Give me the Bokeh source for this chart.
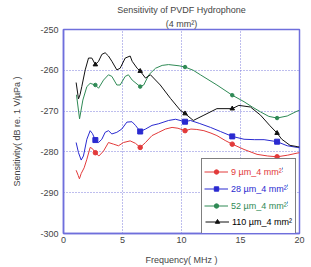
import numpy as np
from bokeh.plotting import figure
from bokeh.models import Legend, LegendItem, Title, PrintfTickFormatter, FixedTicker
from bokeh.embed import file_html
from bokeh.resources import INLINE

# ---- data ----
red_x = [1.07, 1.25, 1.35, 1.5, 1.75, 1.98, 2.26, 2.45, 2.7, 3.0, 3.39, 3.81, 4.24, 4.66, 5.08, 5.65,
         6.1, 6.5, 6.95, 7.5, 8.07, 8.64, 9.2, 9.7, 10.3, 10.8, 11.3, 11.9, 12.5, 13.0, 13.7, 14.3,
         15.3, 16.4, 17.3, 18.1, 19.0, 19.8, 20.0]
red_y = [-284.5, -285.8, -286.6, -285.3, -283.9, -281.8, -278.9, -279.2, -280.2, -281.0, -279.8, -277.7,
         -278.1, -278.5, -277.7, -277.3, -277.9, -278.9, -277.7, -276.0, -275.2, -274.4, -274.0, -274.2,
         -274.8, -274.4, -274.5, -274.8, -275.4, -276.0, -277.2, -278.1, -279.4, -280.6, -281.0, -281.2,
         -280.8, -280.3, -280.2]

blue_x = [1.07, 1.27, 1.5, 1.69, 1.98, 2.26, 2.45, 2.7, 2.97, 3.25, 3.53, 3.81, 4.1, 4.52, 4.94, 5.37,
          5.8, 6.1, 6.5, 6.95, 7.5, 8.07, 8.9, 9.5, 10.3, 10.76, 11.5, 12.46, 13.3, 14.3, 15.3, 16.2,
          17.0, 18.1, 18.96, 19.8, 20.0]
blue_y = [-277.7, -280.2, -282.0, -281.0, -276.9, -274.8, -275.5, -277.1, -277.7, -276.9, -275.2, -274.8,
          -275.6, -275.2, -274.4, -272.7, -272.6, -273.5, -275.0, -274.4, -273.5, -273.1, -272.3, -272.0,
          -272.6, -272.3, -273.0, -274.0, -275.0, -276.2, -276.9, -277.0, -277.0, -277.5, -278.5, -278.9,
          -279.0]

green_x = [1.1, 1.36, 1.64, 1.98, 2.26, 2.7, 2.97, 3.39, 3.81, 4.1, 4.52, 4.8, 5.23, 5.5, 5.82, 6.5,
           6.8, 7.23, 7.8, 8.36, 8.9, 9.8, 10.3, 11.0, 11.6, 13.0, 14.3, 15.3, 16.0, 16.7, 17.4, 18.1,
           18.96, 19.8, 20.0]
green_y = [-266.0, -271.9, -267.3, -264.0, -263.2, -263.6, -264.4, -262.4, -261.1, -261.5, -263.6, -263.6,
           -261.5, -261.1, -262.4, -264.0, -263.6, -261.1, -259.5, -258.8, -258.6, -258.9, -259.2, -260.0,
           -261.1, -263.6, -266.1, -267.7, -269.0, -270.2, -271.3, -271.7, -271.2, -270.0, -269.8]

black_x = [1.07, 1.27, 1.4, 1.55, 1.84, 2.12, 2.4, 2.7, 2.97, 3.25, 3.53, 3.81, 4.1, 4.52, 4.8, 5.23,
           5.65, 5.82, 6.24, 6.5, 6.95, 7.37, 8.2, 9.07, 9.9, 10.3, 11.0, 11.9, 13.0, 14.3, 14.86, 15.85,
           16.7, 17.5, 18.1, 18.5, 19.2, 19.8, 20.0]
black_y = [-263.0, -267.0, -266.0, -264.0, -259.9, -257.0, -257.0, -258.6, -257.8, -256.1, -255.7, -256.5,
           -257.8, -259.9, -259.5, -257.0, -256.5, -257.8, -259.5, -260.2, -261.9, -261.1, -263.6, -266.9,
           -269.8, -270.6, -272.3, -271.0, -269.4, -269.4, -268.6, -269.0, -271.0, -273.6, -275.4, -276.9,
           -278.4, -278.7, -278.8]

marker_freqs = [2.7, 6.5, 10.3, 14.3, 18.1]

labels = ["9 \u00b5m_4 mm\u00b2", "28 \u00b5m_4 mm\u00b2", "52 \u00b5m_4 mm\u00b2", "110 \u00b5m_4 mm\u00b2"]
x_ticks = [0, 5, 10, 15, 20]
y_ticks = [-300, -290, -280, -270, -260, -250]

FONT = "Liberation Sans"
TXT = "#444444"
AXC = "#6f6fdc"

p = figure(width=311, height=267, x_range=(0, 20), y_range=(-300, -250),
           output_backend="svg", toolbar_location=None, title=None,
           min_border_left=63, min_border_right=12, min_border_top=0, min_border_bottom=34)

p.add_layout(Title(text="(4 mm\u00b2)", align="center", text_font=FONT, text_font_size="9px",
                   text_font_style="normal", text_color=TXT, standoff=1, offset=0), "above")
p.add_layout(Title(text="Sensitivity of PVDF Hydrophone", align="center", text_font=FONT,
                   text_font_size="9px", text_font_style="normal", text_color=TXT, standoff=4), "above")

p.outline_line_color = AXC
p.outline_line_width = 1.5
p.background_fill_color = "white"
p.border_fill_color = "white"

for ax in (p.xaxis[0], p.yaxis[0]):
    ax.axis_line_color = AXC
    ax.axis_line_width = 1.5
    ax.major_tick_line_color = None
    ax.minor_tick_line_color = None
    ax.major_tick_out = 0
    ax.major_tick_in = 0
    ax.minor_tick_out = 0
    ax.major_label_text_font = FONT
    ax.major_label_text_font_size = "9px"
    ax.major_label_text_color = TXT
    ax.axis_label_text_font = FONT
    ax.axis_label_text_font_size = "9px"
    ax.axis_label_text_font_style = "normal"
    ax.axis_label_text_color = TXT
    ax.formatter = PrintfTickFormatter(format="%d")

p.xaxis[0].ticker = FixedTicker(ticks=x_ticks)
p.yaxis[0].ticker = FixedTicker(ticks=y_ticks)
p.xaxis[0].axis_label = "Frequency( MHz )"
p.yaxis[0].axis_label = "Sensitivity( dB re. 1 V/\u00b5Pa )"
p.xaxis[0].major_label_standoff = 3
p.yaxis[0].major_label_standoff = 5
p.xaxis[0].axis_label_standoff = 9
p.yaxis[0].axis_label_standoff = 15

p.grid.grid_line_color = "#7c7cdc"
p.grid.grid_line_dash = "1 2"
p.grid.grid_line_width = 1

series = [
    (red_x, red_y, "#e23a3a", "circle", 4.5),
    (blue_x, blue_y, "#2a2ad0", "square", 5),
    (green_x, green_y, "#2f8a55", "circle", 3.5),
    (black_x, black_y, "#111111", "triangle", 4.5),
]

items = []
for (xs, ys, col, mk, sz), lab in zip(series, labels):
    xs = np.array(xs)
    ys = np.array(ys)
    r_line = p.line(xs, ys, line_color=col, line_width=1)
    sel = np.isin(np.round(xs, 2), marker_freqs)
    r_mk = p.scatter(xs[sel], ys[sel], marker=mk, size=sz, fill_color=col, line_color=col)
    items.append((lab, col, [r_line, r_mk]))

legend_kw = dict(glyph_width=24, glyph_height=11, label_height=17, label_standoff=3, spacing=0,
                 label_text_font=FONT, label_text_font_size="9px", margin=0)

main = Legend(items=[LegendItem(label=lab, renderers=rs) for lab, col, rs in items],
              location=(138, -1), padding=3, border_line_color="black", border_line_width=1.5,
              label_text_color="black", background_fill_color="white", **legend_kw)
p.add_layout(main)

for i, (lab, col, rs) in enumerate(items[:3]):
    ov = Legend(items=[LegendItem(label=lab, renderers=rs)], location=(141, 53 - 17 * i), padding=0,
                border_line_alpha=0, background_fill_color="white", background_fill_alpha=1,
                label_text_color=col, **legend_kw)
    p.add_layout(ov)

open("out.html", "w").write(file_html(p, INLINE))
